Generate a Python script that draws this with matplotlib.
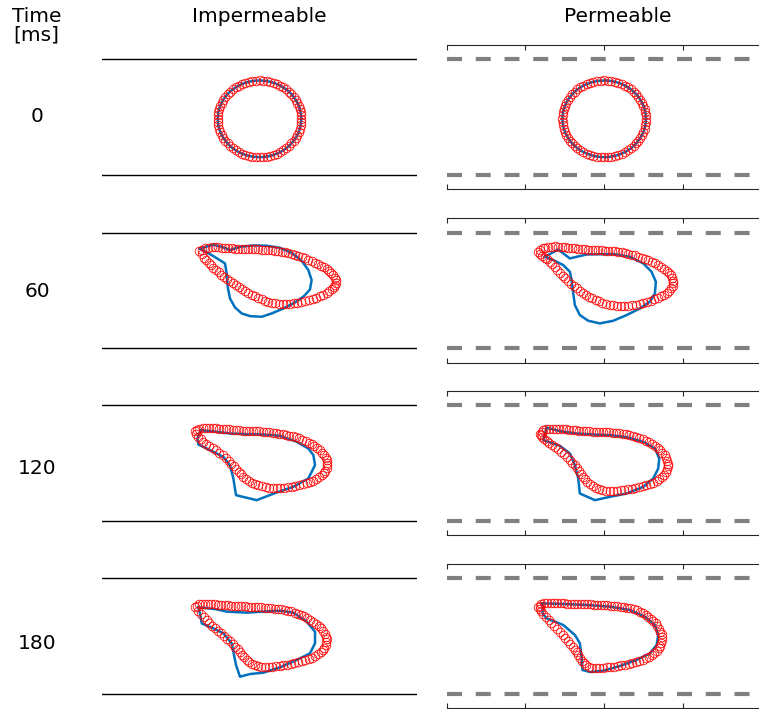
import numpy as np
import matplotlib
matplotlib.use("Agg")
import matplotlib.pyplot as plt

# ---------------------------------------------------------------------------
# Layout values (micrometres)
# ---------------------------------------------------------------------------
times = ["0", "60", "120", "180"]
conditions = ["Impermeable", "Permeable"]
wall_y = 8.0
x_span = (-20, 20)
y_span = (-10, 10)
x_ticks = [-20, -10, 0, 10, 20]

# ---------------------------------------------------------------------------
# Cell outlines: model membrane nodes (red) and measured contour (blue)
# ---------------------------------------------------------------------------
# initial (t = 0) ring, identical in both channels
ring0_x = [5.30, 5.28, 5.22, 5.12, 4.98, 4.80, 4.59, 4.34, 4.06, 3.75, 3.41, 3.04, 2.65, 2.24,
           1.81, 1.37, 0.92, 0.46, 0.00,
           -0.46, -0.92, -1.37, -1.81, -2.24, -2.65, -3.04, -3.41, -3.75, -4.06, -4.34, -4.59,
           -4.80, -4.98, -5.12, -5.22, -5.28, -5.30,
           -5.28, -5.22, -5.12, -4.98, -4.80, -4.59, -4.34, -4.06, -3.75, -3.41, -3.04, -2.65,
           -2.24, -1.81, -1.37, -0.92, -0.46, 0.00,
           0.46, 0.92, 1.37, 1.81, 2.24, 2.65, 3.04, 3.41, 3.75, 4.06, 4.34, 4.59, 4.80, 4.98,
           5.12, 5.22, 5.28]
ring0_y = [-0.25, 0.21, 0.67, 1.12, 1.56, 1.99, 2.40, 2.79, 3.16, 3.50, 3.81, 4.09, 4.34, 4.55,
           4.73, 4.87, 4.97, 5.03, 5.05,
           5.03, 4.97, 4.87, 4.73, 4.55, 4.34, 4.09, 3.81, 3.50, 3.16, 2.79, 2.40, 1.99, 1.56,
           1.12, 0.67, 0.21, -0.25,
           -0.71, -1.17, -1.62, -2.06, -2.49, -2.90, -3.29, -3.66, -4.00, -4.31, -4.59, -4.84,
           -5.05, -5.23, -5.37, -5.47, -5.53, -5.55,
           -5.53, -5.47, -5.37, -5.23, -5.05, -4.84, -4.59, -4.31, -4.00, -3.66, -3.29, -2.90,
           -2.49, -2.06, -1.62, -1.17, -0.71]

# impermeable walls
model_imp60_x = [-7.64, -7.28, -6.92, -6.50, -6.07, -5.65, -5.23, -4.81, -4.38, -3.96,
                 -3.53, -3.11, -2.69, -2.27, -1.84, -1.42, -0.99, -0.57, -0.15, 0.28,
                 0.70, 1.13, 1.55, 1.97, 2.39, 2.82, 3.24, 3.66, 4.08, 4.51,
                 4.93, 5.36, 5.78, 6.20, 6.62, 7.05, 7.47, 7.83, 8.19, 8.53,
                 8.87, 9.13, 9.38, 9.55, 9.72, 9.68, 9.63, 9.42, 9.21, 8.87,
                 8.53, 8.11, 7.68, 7.22, 6.75, 6.27, 5.78, 5.29, 4.80, 4.34,
                 3.87, 3.41, 2.94, 2.48, 2.01, 1.57, 1.12, 0.70, 0.28, -0.15,
                 -0.57, -1.00, -1.42, -1.82, -2.22, -2.60, -2.98, -3.37, -3.75, -4.11,
                 -4.47, -4.83, -5.19, -5.53, -5.86, -6.16, -6.46, -6.76, -7.05, -7.35]
model_imp60_y = [5.51, 5.67, 5.83, 5.90, 5.97, 5.97, 5.97, 5.95, 5.92, 5.88,
                 5.83, 5.81, 5.79, 5.74, 5.69, 5.69, 5.69, 5.69, 5.69, 5.67,
                 5.65, 5.61, 5.56, 5.49, 5.42, 5.35, 5.28, 5.19, 5.09, 4.96,
                 4.82, 4.64, 4.45, 4.27, 4.08, 3.88, 3.67, 3.44, 3.20, 2.95,
                 2.70, 2.40, 2.10, 1.78, 1.45, 1.11, 0.76, 0.46, 0.16, -0.12,
                 -0.39, -0.60, -0.81, -1.00, -1.18, -1.32, -1.45, -1.57, -1.68, -1.75,
                 -1.82, -1.85, -1.87, -1.82, -1.77, -1.66, -1.54, -1.38, -1.22, -1.02,
                 -0.81, -0.58, -0.35, -0.10, 0.16, 0.44, 0.71, 1.01, 1.31, 1.61,
                 1.91, 2.21, 2.51, 2.84, 3.16, 3.48, 3.80, 4.17, 4.54, 5.03]
meas_imp60_x = [-7.56, -5.86, -4.80, -3.75, -2.48, -0.78, 0.91, 2.60, 4.08, 5.35, 6.20, 6.62,
                6.41, 5.65, 4.51, 3.03, 1.55, 0.28, -1.21, -2.26, -3.11, -3.75, -4.04, -4.17,
                -4.38, -5.86]
meas_imp60_y = [5.83, 6.34, 6.06, 5.60, 6.06, 6.25, 6.20, 5.92, 5.23, 4.13, 2.84, 1.45, 0.16,
                -0.76, -1.64, -2.47, -3.16, -3.62, -3.53, -3.16, -2.33, -1.08, 0.53, 2.37,
                3.76, 4.77]

model_imp120_x = [-8.23, -7.94, -7.64, -7.22, -6.79, -6.37, -5.95, -5.53, -5.10, -4.68,
                  -4.25, -3.83, -3.41, -2.99, -2.56, -2.14, -1.71, -1.29, -0.87, -0.45,
                  -0.02, 0.41, 0.83, 1.25, 1.67, 2.10, 2.52, 2.95, 3.37, 3.79,
                  4.21, 4.64, 5.06, 5.46, 5.86, 6.24, 6.62, 6.98, 7.34, 7.64,
                  7.94, 8.17, 8.40, 8.51, 8.61, 8.57, 8.53, 8.36, 8.19, 7.90,
                  7.60, 7.22, 6.84, 6.42, 5.99, 5.53, 5.06, 4.57, 4.08, 3.60,
                  3.11, 2.65, 2.18, 1.72, 1.25, 0.79, 0.32, -0.13, -0.57, -0.98,
                  -1.38, -1.72, -2.05, -2.35, -2.65, -2.95, -3.24, -3.58, -3.92, -4.30,
                  -4.68, -5.10, -5.52, -5.95, -6.37, -6.75, -7.13, -7.47, -7.81, -8.02]
model_imp120_y = [4.41, 4.59, 4.77, 4.82, 4.87, 4.85, 4.82, 4.80, 4.77, 4.73,
                  4.68, 4.64, 4.59, 4.55, 4.50, 4.48, 4.45, 4.43, 4.41, 4.39,
                  4.36, 4.32, 4.27, 4.22, 4.17, 4.11, 4.04, 3.97, 3.90, 3.79,
                  3.67, 3.53, 3.39, 3.21, 3.02, 2.79, 2.56, 2.31, 2.05, 1.75,
                  1.45, 1.11, 0.76, 0.40, 0.03, -0.34, -0.71, -1.06, -1.40, -1.70,
                  -2.00, -2.24, -2.47, -2.65, -2.83, -2.97, -3.11, -3.20, -3.29, -3.36,
                  -3.43, -3.46, -3.48, -3.46, -3.43, -3.34, -3.25, -3.09, -2.93, -2.70,
                  -2.47, -2.19, -1.91, -1.57, -1.22, -0.85, -0.48, -0.09, 0.30, 0.67,
                  1.04, 1.39, 1.73, 2.03, 2.33, 2.63, 2.93, 3.28, 3.62, 4.02]
meas_imp120_x = [-7.47, -5.44, -3.75, -1.63, 0.49, 2.60, 4.72, 6.20, 6.84, 7.05, 6.20, 4.30,
                 2.18, -0.36, -2.98, -3.32, -3.75, -4.59, -6.29, -7.77, -7.89]
meas_imp120_y = [4.54, 4.31, 4.08, 3.99, 3.94, 3.76, 2.93, 2.01, 1.09, -0.30, -2.14, -3.29,
                 -4.08, -5.14, -4.45, -2.14, -0.30, 0.85, 1.78, 2.56, 3.39]

model_imp180_x = [-8.15, -7.94, -7.72, -7.34, -6.96, -6.54, -6.12, -5.70, -5.27, -4.85,
                  -4.42, -4.00, -3.58, -3.16, -2.73, -2.31, -1.88, -1.46, -1.04, -0.62,
                  -0.19, 0.24, 0.66, 1.08, 1.50, 1.93, 2.35, 2.78, 3.20, 3.62,
                  4.04, 4.47, 4.89, 5.29, 5.69, 6.08, 6.46, 6.82, 7.18, 7.50,
                  7.81, 8.05, 8.28, 8.41, 8.53, 8.49, 8.44, 8.25, 8.06, 7.75,
                  7.43, 7.05, 6.67, 6.23, 5.78, 5.34, 4.89, 4.43, 3.96, 3.50,
                  3.03, 2.57, 2.10, 1.63, 1.16, 0.70, 0.23, -0.19, -0.61, -0.97,
                  -1.33, -1.63, -1.93, -2.21, -2.48, -2.78, -3.07, -3.41, -3.75, -4.11,
                  -4.47, -4.85, -5.23, -5.61, -5.99, -6.35, -6.71, -7.07, -7.43, -7.79]
model_imp180_y = [3.97, 4.18, 4.38, 4.43, 4.47, 4.45, 4.43, 4.38, 4.33, 4.29,
                  4.24, 4.22, 4.20, 4.18, 4.15, 4.13, 4.10, 4.08, 4.06, 4.02,
                  3.97, 3.95, 3.92, 3.88, 3.83, 3.78, 3.73, 3.67, 3.60, 3.51,
                  3.41, 3.25, 3.09, 2.91, 2.72, 2.49, 2.26, 1.99, 1.71, 1.39,
                  1.06, 0.69, 0.32, -0.07, -0.46, -0.86, -1.25, -1.60, -1.94, -2.24,
                  -2.54, -2.77, -3.00, -3.19, -3.37, -3.51, -3.64, -3.76, -3.87, -3.97,
                  -4.06, -4.13, -4.20, -4.25, -4.29, -4.29, -4.29, -4.18, -4.06, -3.83,
                  -3.60, -3.28, -2.95, -2.58, -2.21, -1.85, -1.48, -1.11, -0.74, -0.37,
                  0.00, 0.37, 0.74, 1.09, 1.43, 1.80, 2.17, 2.59, 3.00, 3.49]
meas_imp180_x = [-7.77, -5.44, -4.17, -1.63, 0.49, 2.60, 4.30, 5.99, 7.05, 7.05, 6.41, 4.72,
                 2.60, 0.49, -1.21, -2.48, -2.98, -3.32, -3.53, -4.59, -5.86, -7.34, -7.56]
meas_imp180_y = [3.97, 3.69, 3.37, 3.23, 3.37, 3.50, 3.23, 1.98, 0.60, -1.01, -2.40, -3.32,
                 -4.33, -5.07, -5.26, -5.63, -4.01, -2.17, -1.01, 0.37, 1.06, 1.75, 3.13]

# permeable walls
model_per60_x = [-8.38, -8.11, -7.83, -7.47, -7.11, -6.69, -6.26, -5.84, -5.41, -4.99,
                 -4.57, -4.15, -3.72, -3.30, -2.87, -2.45, -2.03, -1.61, -1.18, -0.76,
                 -0.33, 0.09, 0.51, 0.94, 1.36, 1.79, 2.21, 2.63, 3.05, 3.48,
                 3.90, 4.33, 4.75, 5.17, 5.59, 6.02, 6.44, 6.82, 7.20, 7.56,
                 7.92, 8.18, 8.43, 8.60, 8.77, 8.73, 8.68, 8.47, 8.26, 7.92,
                 7.58, 7.18, 6.78, 6.34, 5.89, 5.43, 4.96, 4.50, 4.03, 3.54,
                 3.05, 2.57, 2.08, 1.62, 1.15, 0.69, 0.22, -0.23, -0.67, -1.10,
                 -1.52, -1.92, -2.32, -2.71, -3.09, -3.47, -3.85, -4.21, -4.57, -4.93,
                 -5.29, -5.63, -5.96, -6.28, -6.60, -6.92, -7.23, -7.55, -7.87, -8.13]
model_per60_y = [5.33, 5.58, 5.83, 5.95, 6.06, 6.09, 6.11, 6.07, 6.02, 5.97,
                 5.92, 5.88, 5.83, 5.79, 5.74, 5.70, 5.65, 5.63, 5.60, 5.58,
                 5.56, 5.54, 5.51, 5.47, 5.42, 5.35, 5.28, 5.19, 5.09, 4.98,
                 4.86, 4.70, 4.54, 4.36, 4.17, 3.97, 3.76, 3.53, 3.30, 3.02,
                 2.74, 2.42, 2.10, 1.73, 1.36, 0.99, 0.62, 0.30, -0.02, -0.30,
                 -0.58, -0.81, -1.04, -1.23, -1.41, -1.57, -1.73, -1.85, -1.96, -2.03,
                 -2.10, -2.12, -2.14, -2.10, -2.05, -1.94, -1.82, -1.66, -1.50, -1.29,
                 -1.08, -0.83, -0.58, -0.30, -0.02, 0.30, 0.62, 0.97, 1.31, 1.68,
                 2.05, 2.45, 2.84, 3.23, 3.62, 3.97, 4.31, 4.57, 4.82, 5.08]
meas_per60_x = [-7.53, -5.84, -4.36, -2.24, 1.15, 3.26, 4.96, 6.01, 6.56, 6.44, 5.80, 4.53,
                2.84, 1.15, -0.55, -2.03, -3.09, -3.72, -3.93, -4.14, -4.36, -5.20, -6.47]
meas_per60_y = [4.68, 5.69, 4.45, 5.00, 5.05, 4.68, 3.76, 2.61, 1.22, -0.39, -1.54, -2.47,
                -3.39, -4.17, -4.54, -4.17, -3.39, -2.01, -0.39, 1.45, 2.61, 3.53, 4.22]

model_per120_x = [-8.17, -7.96, -7.74, -7.36, -6.98, -6.56, -6.13, -5.71, -5.29, -4.87,
                  -4.44, -4.02, -3.59, -3.17, -2.75, -2.33, -1.90, -1.48, -1.05, -0.63,
                  -0.21, 0.22, 0.64, 1.07, 1.49, 1.91, 2.33, 2.76, 3.18, 3.61,
                  4.03, 4.45, 4.87, 5.28, 5.68, 6.06, 6.44, 6.78, 7.12, 7.40,
                  7.67, 7.84, 8.00, 8.05, 8.09, 7.97, 7.84, 7.59, 7.33, 6.99,
                  6.65, 6.23, 5.80, 5.34, 4.87, 4.41, 3.94, 3.48, 3.01, 2.55,
                  2.08, 1.62, 1.15, 0.69, 0.22, -0.23, -0.67, -1.08, -1.48, -1.82,
                  -2.15, -2.43, -2.71, -2.96, -3.21, -3.49, -3.76, -4.08, -4.40, -4.76,
                  -5.12, -5.50, -5.88, -6.26, -6.64, -6.98, -7.32, -7.60, -7.87, -8.02]
model_per120_y = [4.08, 4.34, 4.59, 4.68, 4.77, 4.77, 4.77, 4.73, 4.68, 4.64,
                  4.59, 4.55, 4.50, 4.46, 4.41, 4.39, 4.36, 4.34, 4.31, 4.29,
                  4.27, 4.25, 4.22, 4.18, 4.13, 4.09, 4.04, 3.95, 3.85, 3.74,
                  3.62, 3.46, 3.30, 3.09, 2.88, 2.63, 2.38, 2.08, 1.78, 1.44,
                  1.09, 0.70, 0.30, -0.09, -0.48, -0.88, -1.27, -1.62, -1.96, -2.24,
                  -2.51, -2.72, -2.93, -3.09, -3.25, -3.37, -3.48, -3.57, -3.66, -3.73,
                  -3.80, -3.85, -3.89, -3.87, -3.85, -3.74, -3.62, -3.41, -3.20, -2.90,
                  -2.60, -2.26, -1.91, -1.52, -1.13, -0.74, -0.34, 0.05, 0.44, 0.81,
                  1.18, 1.53, 1.87, 2.19, 2.51, 2.79, 3.07, 3.32, 3.57, 3.83]
meas_per120_x = [-7.32, -7.74, -5.63, -4.36, -3.72, -3.30, -3.09, -1.18, 0.72, 2.84, 4.96,
                 6.23, 6.86, 6.99, 6.44, 4.96, 2.84, 0.72, -1.39, -3.51, -5.63, -6.90]
meas_per120_y = [4.87, 3.16, 2.38, 1.32, -0.30, -2.14, -4.22, -5.14, -4.68, -4.22, -3.29,
                 -2.14, -0.76, 0.62, 2.01, 2.93, 3.58, 3.85, 3.94, 4.08, 4.41, 4.77]

model_per180_x = [-8.38, -8.19, -8.00, -7.62, -7.23, -6.81, -6.39, -5.97, -5.54, -5.12,
                  -4.69, -4.27, -3.85, -3.43, -3.00, -2.58, -2.15, -1.73, -1.31, -0.89,
                  -0.46, -0.04, 0.39, 0.81, 1.23, 1.66, 2.08, 2.50, 2.92, 3.33,
                  3.73, 4.13, 4.53, 4.89, 5.25, 5.59, 5.93, 6.23, 6.52, 6.76,
                  6.99, 7.14, 7.28, 7.31, 7.33, 7.23, 7.12, 6.91, 6.69, 6.38,
                  6.06, 5.68, 5.30, 4.88, 4.45, 4.01, 3.56, 3.10, 2.63, 2.17,
                  1.70, 1.24, 0.77, 0.30, -0.17, -0.64, -1.10, -1.52, -1.94, -2.26,
                  -2.58, -2.81, -3.04, -3.28, -3.51, -3.77, -4.02, -4.32, -4.61, -4.95,
                  -5.29, -5.65, -6.01, -6.37, -6.73, -7.07, -7.40, -7.72, -8.04, -8.21]
model_per180_y = [3.97, 4.20, 4.43, 4.50, 4.56, 4.56, 4.56, 4.54, 4.52, 4.50,
                  4.47, 4.45, 4.43, 4.41, 4.38, 4.38, 4.38, 4.36, 4.33, 4.31,
                  4.29, 4.27, 4.24, 4.20, 4.15, 4.11, 4.06, 3.99, 3.92, 3.81,
                  3.69, 3.53, 3.37, 3.16, 2.95, 2.68, 2.40, 2.08, 1.75, 1.38,
                  1.01, 0.62, 0.23, -0.16, -0.55, -0.95, -1.34, -1.69, -2.03, -2.33,
                  -2.63, -2.86, -3.09, -3.28, -3.46, -3.60, -3.74, -3.86, -3.97, -4.06,
                  -4.15, -4.22, -4.29, -4.34, -4.38, -4.41, -4.43, -4.36, -4.29, -4.04,
                  -3.78, -3.41, -3.04, -2.65, -2.26, -1.87, -1.48, -1.07, -0.65, -0.24,
                  0.18, 0.60, 1.01, 1.43, 1.84, 2.26, 2.67, 3.04, 3.41, 3.69]
meas_per180_x = [-7.83, -5.20, -2.24, 0.72, 3.26, 5.17, 6.44, 6.86, 6.65, 5.80, 4.11, 1.99,
                 -0.12, -1.82, -2.75, -2.87, -3.09, -3.72, -5.20, -7.32, -7.83]
meas_per180_y = [4.52, 4.43, 4.29, 4.06, 3.60, 2.67, 1.52, 0.14, -1.25, -2.40, -3.32, -4.15,
                 -4.80, -4.98, -4.70, -2.86, -1.01, 0.14, 1.52, 2.44, 3.13]

model_shapes = [
    [(ring0_x, ring0_y), (ring0_x, ring0_y)],
    [(model_imp60_x, model_imp60_y), (model_per60_x, model_per60_y)],
    [(model_imp120_x, model_imp120_y), (model_per120_x, model_per120_y)],
    [(model_imp180_x, model_imp180_y), (model_per180_x, model_per180_y)],
]
measured_shapes = [
    [(ring0_x, ring0_y), (ring0_x, ring0_y)],
    [(meas_imp60_x, meas_imp60_y), (meas_per60_x, meas_per60_y)],
    [(meas_imp120_x, meas_imp120_y), (meas_per120_x, meas_per120_y)],
    [(meas_imp180_x, meas_imp180_y), (meas_per180_x, meas_per180_y)],
]

# ---------------------------------------------------------------------------
# Figure
# ---------------------------------------------------------------------------
plt.rcParams["font.family"] = ["DejaVu Sans"]
W, H = 759, 709
fig = plt.figure(figsize=(W / 100, H / 100), dpi=100)

row_tops = [44.7, 218.3, 390.7, 563.7]      # pixel rows of each strip
row_h = 144.6
col_lefts = [102.0, 446.7]
col_w = 315.0

BLUE = "#0072BD"
RED = "#FF0000"

for r in range(4):
    for c in range(2):
        left = col_lefts[c] / W
        bottom = (H - row_tops[r] - row_h) / H
        ax = fig.add_axes([left, bottom, col_w / W, row_h / H])
        ax.set_xlim(*x_span)
        ax.set_ylim(*y_span)

        if c == 0:
            ax.axis("off")
            for s in (1, -1):
                ax.axhline(s * wall_y, color="black", lw=1.0, zorder=1)
        else:
            for side in ("left", "right"):
                ax.spines[side].set_visible(False)
            for side in ("top", "bottom"):
                ax.spines[side].set_color("#262626")
                ax.spines[side].set_linewidth(0.8)
            ax.set_xticks(x_ticks)
            ax.set_yticks([])
            ax.tick_params(axis="x", which="both", direction="in", top=True, bottom=True,
                           labeltop=False, labelbottom=False, length=3.5, width=0.8,
                           color="#262626")
            for s in (1, -1):
                ax.axhline(s * wall_y, color="#808080", lw=3.0, dashes=(3.6, 3.3), zorder=1)

        mx, my = measured_shapes[r][c]
        ax.plot(np.append(mx, mx[0]), np.append(my, my[0]), color=BLUE, lw=1.8,
                solid_joinstyle="round", zorder=2, clip_on=False)
        sx, sy = model_shapes[r][c]
        ax.plot(sx, sy, ls="none", marker="o", markersize=6.2, markerfacecolor="none",
                markeredgecolor=RED, markeredgewidth=0.55, zorder=3, clip_on=False)

# header and row labels
fs = 14.5
fig.text(36.7 / W, 1 - 21.7 / H, "Time", ha="center", va="baseline", fontsize=fs)
fig.text(36.7 / W, 1 - 40.5 / H, "[ms]", ha="center", va="baseline", fontsize=fs)
title_x = [259.5, 618.0]
for c, name in enumerate(conditions):
    fig.text(title_x[c] / W, 1 - 21.7 / H, name, ha="center", va="baseline", fontsize=fs)

label_base = [122.3, 297.0, 474.0, 649.0]
for r, t in enumerate(times):
    fig.text(37.0 / W, 1 - label_base[r] / H, t, ha="center", va="baseline", fontsize=fs)

fig.savefig("out.png", dpi=100)
